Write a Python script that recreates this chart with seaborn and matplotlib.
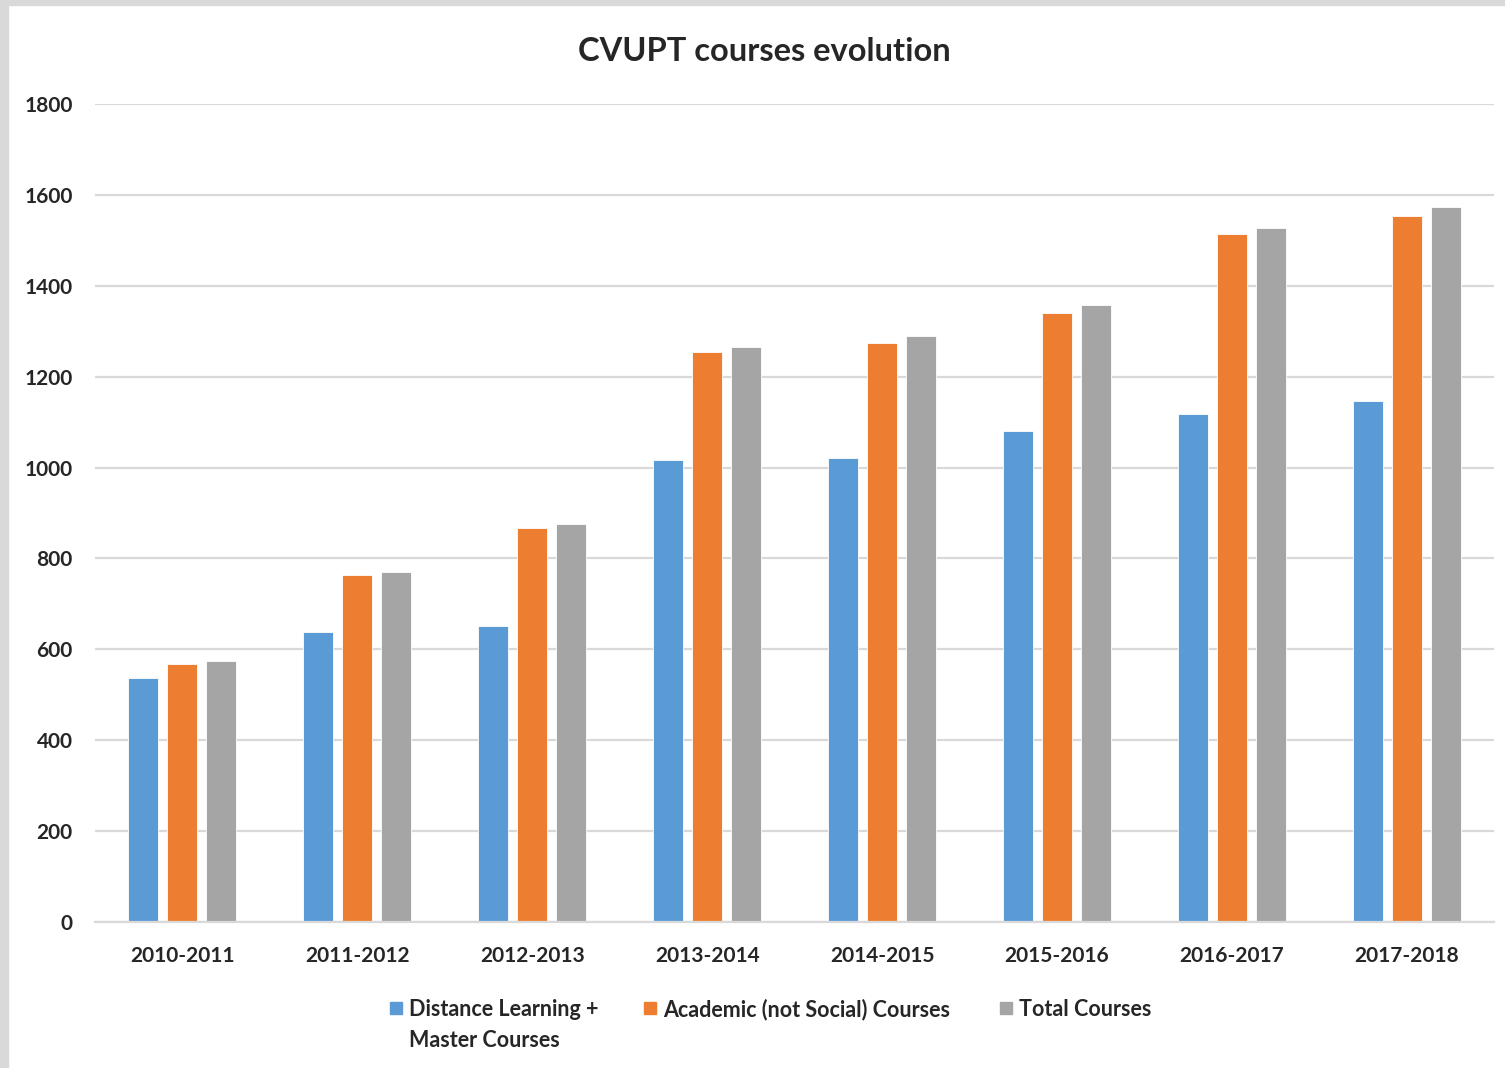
import matplotlib
matplotlib.use("Agg")
import matplotlib.pyplot as plt
import seaborn as sns
import pandas as pd
from matplotlib.patches import Rectangle

# data
years = ["2010-2011", "2011-2012", "2012-2013", "2013-2014",
         "2014-2015", "2015-2016", "2016-2017", "2017-2018"]
distance_master = [537, 638, 651, 1017, 1021, 1080, 1118, 1147]
academic = [568, 764, 867, 1254, 1274, 1340, 1514, 1554]
total = [574, 770, 876, 1265, 1290, 1358, 1527, 1573]

series_names = ["Distance Learning +\nMaster Courses",
                "Academic (not Social) Courses",
                "Total Courses"]
colors = ["#5B9BD5", "#ED7D31", "#A5A5A5"]

rows = []
for name, vals in zip(series_names, [distance_master, academic, total]):
    for y, v in zip(years, vals):
        rows.append({"year": y, "series": name, "courses": v})
df = pd.DataFrame(rows)

sns.set_style("white")
plt.rcParams["font.family"] = ["Lato", "DejaVu Sans"]
txt = "#262626"

fig = plt.figure(figsize=(15.05, 10.68), dpi=100)
ax = fig.add_axes([0.063, 0.1367, 0.930, 0.7659])

sns.barplot(data=df, x="year", y="courses", hue="series", order=years,
            hue_order=series_names, palette=colors, saturation=1,
            width=0.67, gap=0.23, edgecolor="white", linewidth=0.6,
            legend=False, ax=ax)

ax.set_ylim(0, 1800)
ax.set_xlim(-0.5, 7.5)
ax.set_yticks(range(0, 1801, 200))
ax.yaxis.grid(True, color="#d9d9d9", linewidth=1.6)
ax.set_axisbelow(True)
for s in ["top", "right", "left"]:
    ax.spines[s].set_visible(False)
ax.spines["bottom"].set_color("#d9d9d9")
ax.spines["bottom"].set_linewidth(1.6)
ax.tick_params(axis="both", length=0, labelsize=15, colors=txt)
ax.tick_params(axis="y", pad=16)
ax.tick_params(axis="x", pad=17)
for lab in ax.get_xticklabels() + ax.get_yticklabels():
    lab.set_fontweight("bold")
ax.set_xlabel("")
ax.set_ylabel("")

fig.text(0.508, 0.952, "CVUPT courses evolution", ha="center", va="center",
         fontsize=23.5, fontweight="bold", color=txt)

# legend drawn by hand so the square sits by the first text line
leg_x = [390, 644, 1000]
leg_y = 1008
for x, c, name in zip(leg_x, colors, series_names):
    fig.patches.append(Rectangle(((x) / 1505, 1 - (leg_y + 6) / 1068),
                                 12 / 1505, 12 / 1068,
                                 transform=fig.transFigure, color=c))
    fig.text((x + 19) / 1505, 1 - (leg_y - 9) / 1068, name, ha="left",
             va="top", fontsize=15.5, fontweight="bold", color=txt,
             linespacing=1.58)

# light gray frame on the left and top edges
fig.patches.append(Rectangle((0, 0), 0.005, 1, transform=fig.transFigure,
                             color="#d9d9d9", zorder=0))
fig.patches.append(Rectangle((0, 0.995), 1, 0.005, transform=fig.transFigure,
                             color="#d9d9d9", zorder=0))

fig.savefig("out.png", dpi=100)
